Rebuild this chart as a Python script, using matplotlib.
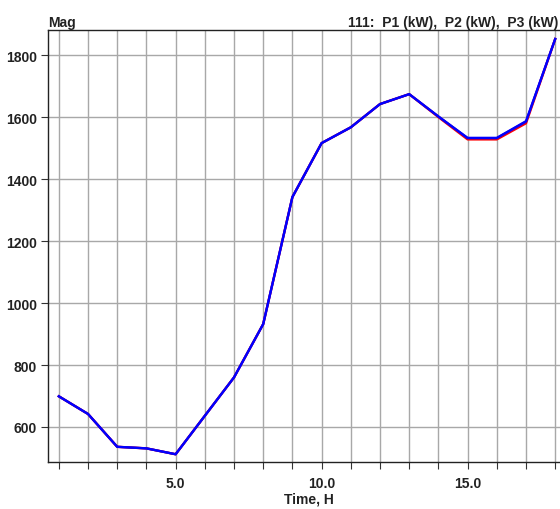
import matplotlib.pyplot as plt
from matplotlib.ticker import MultipleLocator, FixedLocator

hours = [1, 2, 3, 4, 5, 6, 7, 8, 9, 10, 11, 12, 13, 14, 15, 16, 17, 18]
p1 = [699, 642, 536, 531, 512, 636, 760, 932, 1342, 1516, 1567, 1642, 1674, 1600, 1528, 1528, 1580, 1852]
p2 = [699, 642, 536, 531, 512, 636, 760, 932, 1342, 1516, 1567, 1642, 1674, 1602, 1532, 1532, 1585, 1852]
p3 = [699, 642, 536, 531, 512, 636, 760, 932, 1342, 1516, 1567, 1642, 1674, 1602, 1533, 1533, 1587, 1852]

plt.rcParams['font.family'] = ['Liberation Sans', 'DejaVu Sans']

fig = plt.figure(figsize=(5.6, 5.1), dpi=100)
# axes reaches past the right edge, the picture is cropped there
ax = fig.add_axes([48.3 / 560, 1 - 463 / 510, 521.5 / 560, 432 / 510])

ax.plot(hours, p1, color='#ff0000', lw=1.7, zorder=3)
ax.plot(hours, p2, color='#4000c0', lw=1.7, zorder=4)
ax.plot(hours, p3, color='#0000ff', lw=1.6, zorder=5)

ax.set_xlim(0.64, 18.5)
ax.set_ylim(487, 1881)

ax.xaxis.set_major_locator(FixedLocator([5, 10, 15]))
ax.xaxis.set_minor_locator(MultipleLocator(1))
ax.set_xticklabels(['5.0', '10.0', '15.0'])
ax.yaxis.set_major_locator(MultipleLocator(200))

ax.grid(True, which='both', axis='x', color='#a8a8a8', lw=1.0)
ax.grid(True, which='major', axis='y', color='#a8a8a8', lw=1.0)
ax.set_axisbelow(True)

ax.tick_params(axis='both', which='both', direction='out', length=5, width=0.8,
               color='#333333', labelsize=10)
ax.tick_params(axis='x', pad=5)
ax.tick_params(axis='y', pad=3)
for lab in ax.get_xticklabels() + ax.get_yticklabels():
    lab.set_fontweight('bold')
    lab.set_color('#222222')

for s in ax.spines.values():
    s.set_color('#222222')
    s.set_linewidth(1.0)

ax.set_xlabel('Time, H', fontsize=10, fontweight='bold', color='#222222', labelpad=1)
fig.text(48 / 560, 1 - 27 / 510, 'Mag', fontsize=10, fontweight='bold',
         color='#222222', va='baseline')
fig.text(558 / 560, 1 - 27 / 510, '111:  P1 (kW),  P2 (kW),  P3 (kW)', fontsize=10,
         fontweight='bold', color='#222222', va='baseline', ha='right')

fig.savefig('out.png', dpi=100)
